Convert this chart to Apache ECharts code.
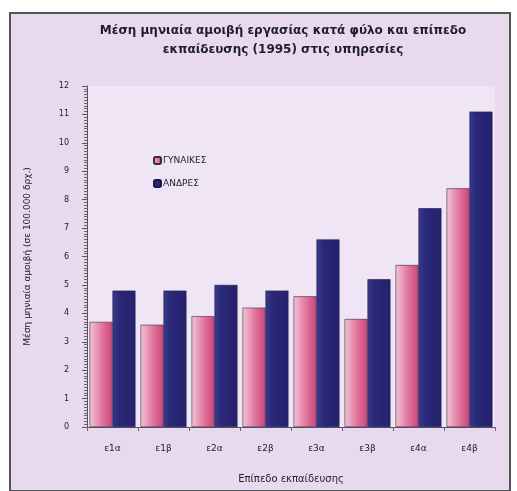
<!DOCTYPE html>
<html>
<head>
<meta charset="utf-8">
<script src="https://cdn.jsdelivr.net/npm/echarts@6/dist/echarts.min.js"></script>
<style>
  html, body { margin: 0; padding: 0; background: #ffffff; }
  #chart { width: 517px; height: 491px; }
</style>
</head>
<body>
<div id="chart"></div>
<script>
// επίπεδα εκπαίδευσης
const levels = ["ε1α", "ε1β", "ε2α", "ε2β", "ε3α", "ε3β", "ε4α", "ε4β"];
// μέση μηνιαία αμοιβή
const women = [3.7, 3.6, 3.9, 4.2, 4.6, 3.8, 5.7, 8.4];
const men = [4.8, 4.8, 5.0, 4.8, 6.6, 5.2, 7.7, 11.1];
const yTicks = [0, 12, 1]; // min, max, interval

let chart = echarts.init(document.getElementById("chart"));

let options = {
  animation: false,
  backgroundColor: "#ffffff",
  textStyle: { fontFamily: "DejaVu Sans" },
  graphic: [
    {
      type: "rect",
      shape: { x: 10, y: 13, width: 500, height: 478 },
      style: { fill: "#e9d9ef", stroke: "#555555", lineWidth: 2 },
      z: -10,
    },
    {
      type: "rect",
      shape: { x: 87, y: 86, width: 408, height: 341 },
      style: { fill: "#efe5f4" },
      z: -9,
    },
  ],
  title: {
    text: "Μέση μηνιαία αμοιβή εργασίας κατά φύλο και επίπεδο\nεκπαίδευσης (1995) στις υπηρεσίες",
    left: 278,
    top: 16,
    textAlign: "center",
    textStyle: { fontSize: 12, fontWeight: "bold", color: "#1e1e2a", lineHeight: 19 },
  },
  legend: {
    orient: "vertical",
    left: 148,
    top: 151,
    itemWidth: 7,
    itemHeight: 7,
    itemGap: 14,
    textStyle: { fontSize: 9, color: "#1e1e2a", padding: [0, 0, 0, -3] },
    data: ["ΓΥΝΑΙΚΕΣ", "ΑΝΔΡΕΣ"],
  },
  grid: { left: 87, right: 22, top: 86, bottom: 64 },
  xAxis: {
    type: "category",
    data: levels,
    name: "Επίπεδο εκπαίδευσης",
    nameLocation: "middle",
    nameGap: 47,
    nameTextStyle: { fontSize: 10, color: "#222222" },
    axisLine: { lineStyle: { color: "#555555" } },
    axisTick: { show: true, length: 4, lineStyle: { color: "#666666" } },
    axisLabel: { fontSize: 9, color: "#222222", margin: 17 },
  },
  yAxis: {
    type: "value",
    min: yTicks[0],
    max: yTicks[1],
    interval: yTicks[2],
    name: "Μέση μηνιαία αμοιβή (σε 100.000 δρχ.)",
    nameLocation: "middle",
    nameGap: 55,
    nameTextStyle: { fontSize: 9, color: "#222222" },
    axisLine: { show: true, lineStyle: { color: "#555555" } },
    axisTick: { show: true, length: 5, lineStyle: { color: "#555555" } },
    minorTick: { show: true, splitNumber: 10, length: 3, lineStyle: { color: "#666666" } },
    splitLine: { show: false },
    axisLabel: { fontSize: 8, color: "#222222", margin: 18 },
  },
  series: [
    {
      name: "ΓΥΝΑΙΚΕΣ",
      type: "bar",
      data: women,
      barGap: "0%",
      barCategoryGap: "10%",
      itemStyle: {
        color: new echarts.graphic.LinearGradient(0, 0, 1, 0, [
          { offset: 0, color: "#f2c6d6" },
          { offset: 0.6, color: "#e06d98" },
          { offset: 1, color: "#c8467a" },
        ]),
        borderColor: "#3a2a50",
        borderWidth: 0.6,
      },
    },
    {
      name: "ΑΝΔΡΕΣ",
      type: "bar",
      data: men,
      itemStyle: {
        color: new echarts.graphic.LinearGradient(0, 0, 1, 0, [
          { offset: 0, color: "#3b3a8c" },
          { offset: 0.3, color: "#2a2878" },
          { offset: 1, color: "#24226c" },
        ]),
        borderColor: "#1a1850",
        borderWidth: 0.6,
      },
    },
  ],
};

chart.setOption(options);
</script>
</body>
</html>
